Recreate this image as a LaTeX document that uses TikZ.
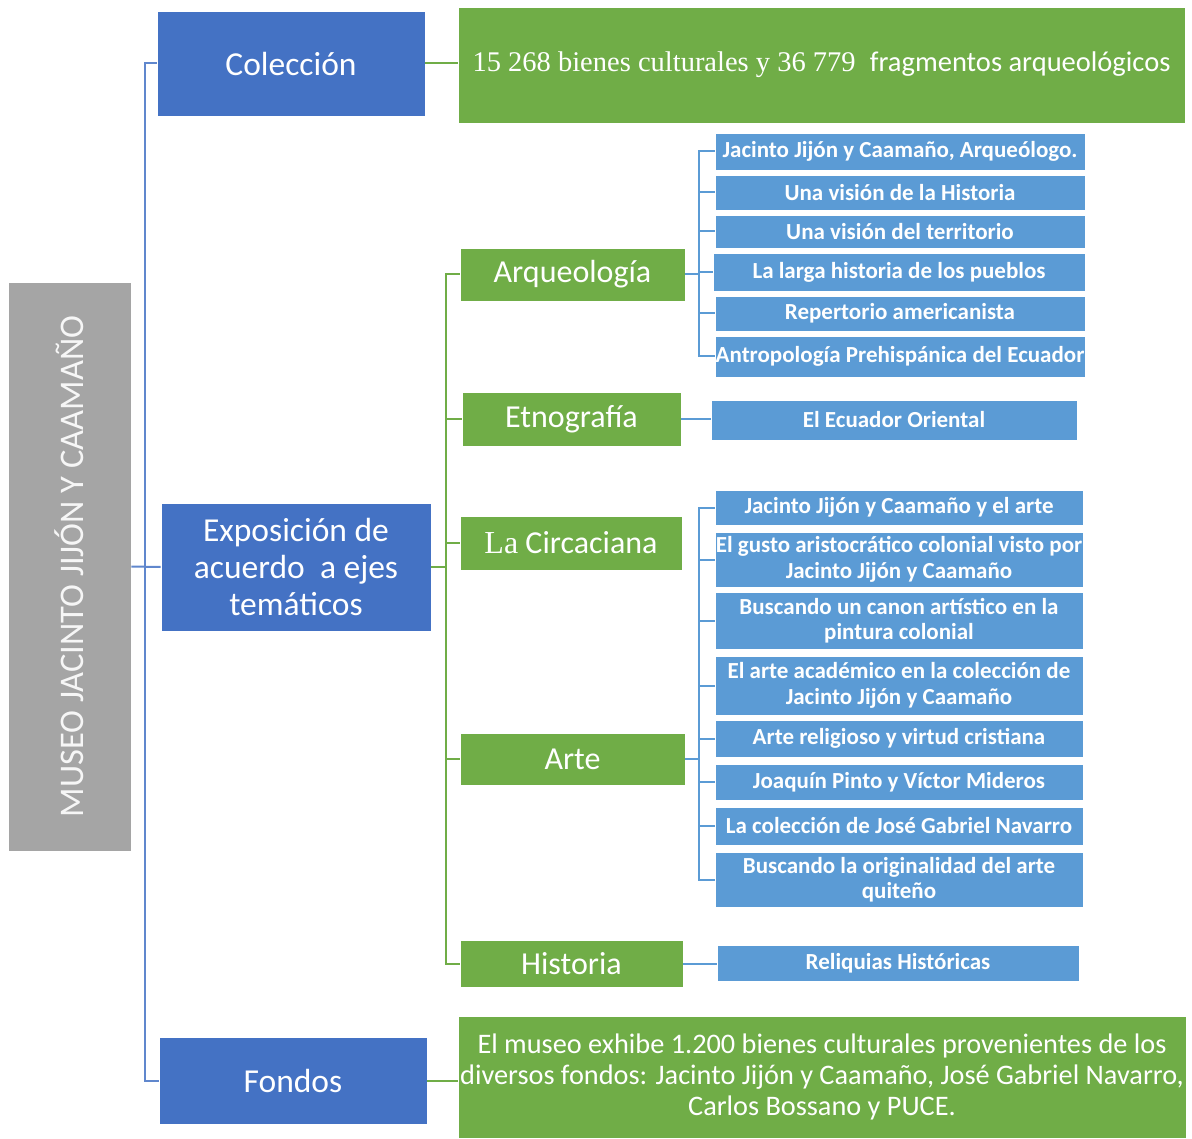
\documentclass[tikz,border=0pt]{standalone}
\usepackage{fontspec}
\setmainfont{Carlito}
\newfontfamily\serifont{Liberation Serif}
\definecolor{cblue}{HTML}{4472C4}
\definecolor{cgreen}{HTML}{70AD47}
\definecolor{clblue}{HTML}{5B9BD5}
\definecolor{cgray}{HTML}{A5A5A5}
\tikzset{
  box/.style={draw=white, line width=0.8pt, inner sep=0pt, text=white, align=center},
  lvlone/.style={box, fill=cblue, font=\fontsize{33.5}{37}\selectfont},
  lvltwo/.style={box, fill=cgreen, font=\fontsize{32}{36}\selectfont},
  leaf/.style={box, fill=clblue, font=\bfseries\fontsize{23}{25.5}\selectfont},
  info/.style={box, fill=cgreen},
  bline/.style={draw=cblue!85!white, line width=2pt},
  gline/.style={draw=cgreen, line width=2pt},
  lline/.style={draw=clblue, line width=2pt}
}
\begin{document}
\begin{tikzpicture}[x=1pt, y=-1pt]
\useasboundingbox (0,0) rectangle (1192,1139);
% root
\node[box, fill=cgray, minimum width=123, minimum height=569, text=white!93!gray,
      font=\fontsize{34.5}{38}\selectfont] (root) at (69.5,566.5)
      {\rotatebox{90}{MUSEO JACINTO JIJÓN Y CAAMAÑO}};
% level one
\node[lvlone, minimum width=268, minimum height=105] (col) at (291,63.5) {Colección};
\node[lvlone, minimum width=270, minimum height=128] (expo) at (296,567)
  {Exposición de\\acuerdo\ \ a ejes\\temáticos};
\node[lvlone, minimum width=268, minimum height=87] (fon) at (293,1080.5) {Fondos};
% info boxes
\node[info, minimum width=727, minimum height=116, font=\fontsize{28.5}{32}\selectfont] (g1) at (821.5,65)
  {{\serifont 15 268 bienes culturales y 36 779\ \ }fragmentos arqueológicos};
\node[info, minimum width=728, minimum height=122, font=\fontsize{28.3}{31}\selectfont] (g2) at (822,1077)
  {El museo exhibe 1.200 bienes culturales provenientes de los\\diversos fondos: Jacinto Jijón y Caamaño, José Gabriel Navarro,\\Carlos Bossano y PUCE.};
% level two
\node[lvltwo, minimum width=225, minimum height=53] (arq) at (572.5,274.5) {Arqueología};
\node[lvltwo, minimum width=219, minimum height=54] (etn) at (571.5,419) {Etnografía};
\node[lvltwo, minimum width=222, minimum height=54] (cir) at (571,543) {{\serifont La} Circaciana};
\node[lvltwo, minimum width=225, minimum height=52] (arte) at (572.5,759) {Arte};
\node[lvltwo, minimum width=223, minimum height=47] (hist) at (571.5,963.5) {Historia};
% arqueologia leaves
\node[leaf, minimum width=370, minimum height=37] (a1) at (900,151.5) {Jacinto Jijón y Caamaño, Arqueólogo.};
\node[leaf, minimum width=370, minimum height=35] (a2) at (900,192.5) {Una visión de la Historia};
\node[leaf, minimum width=370, minimum height=33] (a3) at (900,231.5) {Una visión del territorio};
\node[leaf, minimum width=372, minimum height=38] (a4) at (899,272) {La larga historia de los pueblos};
\node[leaf, minimum width=370, minimum height=35] (a5) at (900,313.5) {Repertorio americanista};
\node[leaf, minimum width=370, minimum height=41] (a6) at (900,356.5) {Antropología Prehispánica del Ecuador};
% etnografia leaf
\node[leaf, minimum width=366, minimum height=40] (e1) at (894,420) {El Ecuador Oriental};
% arte leaves
\node[leaf, minimum width=368, minimum height=35] (r1) at (899,507.5) {Jacinto Jijón y Caamaño y el arte};
\node[leaf, minimum width=368, minimum height=55] (r2) at (899,559.5) {El gusto aristocrático colonial visto por\\Jacinto Jijón y Caamaño};
\node[leaf, minimum width=368, minimum height=57] (r3) at (899,620.5) {Buscando un canon artístico en la\\pintura colonial};
\node[leaf, minimum width=368, minimum height=59] (r4) at (899,685.5) {El arte académico en la colección de\\Jacinto Jijón y Caamaño};
\node[leaf, minimum width=368, minimum height=37] (r5) at (899,738.5) {Arte religioso y virtud cristiana};
\node[leaf, minimum width=368, minimum height=36] (r6) at (899,782) {Joaquín Pinto y Víctor Mideros};
\node[leaf, minimum width=368, minimum height=38] (r7) at (899,826) {La colección de José Gabriel Navarro};
\node[leaf, minimum width=368, minimum height=55] (r8) at (899,879.5) {Buscando la originalidad del arte\\quiteño};
% historia leaf
\node[leaf, minimum width=362, minimum height=36] (h1) at (898,963) {Reliquias Históricas};
% trunk coordinates
\coordinate (bt) at (145,0);
\coordinate (gt) at (446,0);
\coordinate (lt) at (699,0);
% blue trunk
\draw[bline] (col.west) -- (col.west -| bt) |- (fon.west);
\draw[bline] (root.east) -- (expo.west);
% green connectors
\draw[gline] (col.east) -- (col.east -| g1.west);
\draw[gline] (fon.east) -- (fon.east -| g2.west);
\draw[gline] (expo.east) -- (expo.east -| gt);
\draw[gline] (arq.west) -- (arq.west -| gt) |- (hist.west);
\draw[gline] (etn.west) -- (etn.west -| gt);
\draw[gline] (cir.west) -- (cir.west -| gt);
\draw[gline] (arte.west) -- (arte.west -| gt);
% arqueologia bracket
\draw[lline] (arq.east) -- (arq.east -| lt);
\draw[lline] (a1.west) -- (a1.west -| lt) |- (a6.west);
\foreach \n in {a2,a3,a4,a5} \draw[lline] (\n.west) -- (\n.west -| lt);
% arte bracket
\draw[lline] (arte.east) -- (arte.east -| lt);
\draw[lline] (r1.west) -- (r1.west -| lt) |- (r8.west);
\foreach \n in {r2,r3,r4,r5,r6,r7} \draw[lline] (\n.west) -- (\n.west -| lt);
% single leaves
\draw[lline] (etn.east) -- (etn.east -| e1.west);
\draw[lline] (hist.east) -- (hist.east -| h1.west);
\end{tikzpicture}
\end{document}
